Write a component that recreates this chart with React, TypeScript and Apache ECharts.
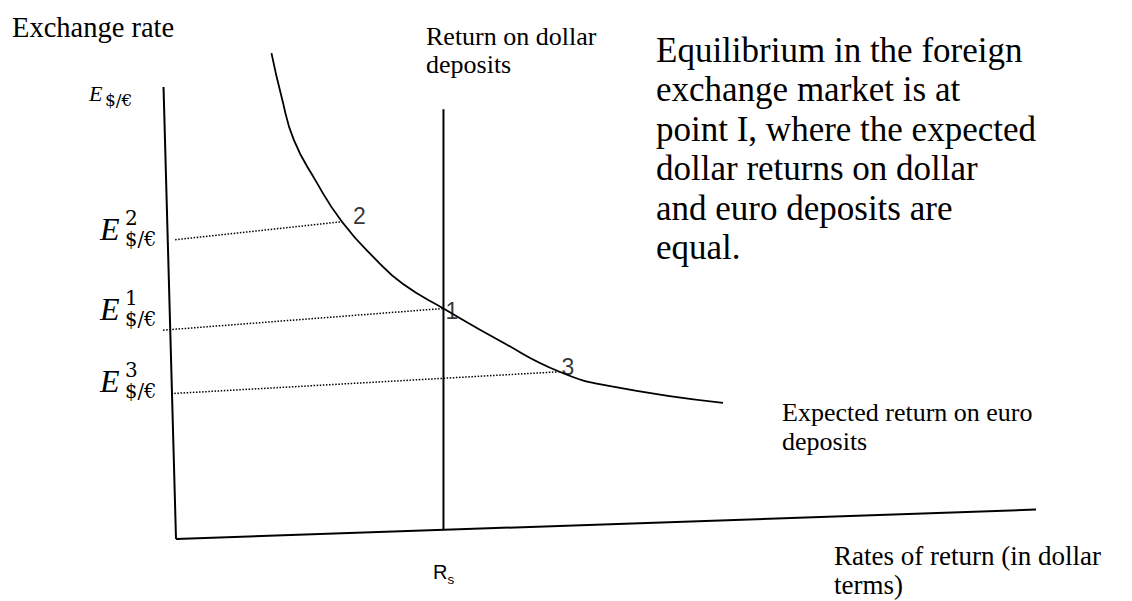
import React, { useEffect, useRef } from "react";
import * as echarts from "echarts";

// ---- data (chart units: x = rate of return, y = exchange rate) ----
const curveX = [11.1, 12.3, 13.7, 16.2, 19.3, 23.3, 26.4, 31.1, 37.7, 44.6, 50.5, 63.6];
const curveY = [107.5, 97.6, 88.3, 79.4, 70.2, 61.7, 56.4, 51.0, 43.8, 37.0, 33.8, 30.1];
const pointNames = ["2", "1", "3"];
const pointX = [19.3, 31.1, 44.6];
const pointY = [70.2, 51.0, 37.0];
const dottedStartX = [-0.1, -1.5, -0.2];
const dottedStartY = [66.2, 46.2, 32.2];
const rsX = 31.1;
const rsBottom = 2.0;
const rsTop = 95.1;
const yAxisX = [0, -1.45];
const yAxisY = [0, 100];
const xAxisX = [0, 100];
const xAxisY = [0, 6.5];
const paragraph = [
  "Equilibrium in the foreign",
  "exchange market is at",
  "point I, where the expected",
  "dollar returns on dollar",
  "and euro deposits are",
  "equal.",
];
const eSups = ["2", "1", "3"];

const SERIF = "'Liberation Serif', 'Times New Roman', serif";
const SANS = "'Liberation Sans', Arial, sans-serif";
const DVS = "'DejaVu Serif', serif";

function txt(x: number, baseline: number, text: string, fs: number, family: string, style = "normal") {
  return {
    type: "text",
    x,
    y: baseline - 0.34 * fs,
    silent: true,
    style: {
      text,
      font: `${style} ${fs}px ${family}`,
      fill: "#000",
      textAlign: "left",
      textVerticalAlign: "middle",
      align: "left",
      verticalAlign: "middle",
    },
  };
}

export default function App() {
  const ref = useRef<HTMLDivElement>(null);
  useEffect(() => {
    if (!ref.current) return;
    const chart = echarts.init(ref.current, undefined, { renderer: "svg" });
    const black = "#000";
    const lineSeries = (data: number[][], width: number, extra: any = {}) => ({
      type: "line",
      data,
      symbol: "none",
      clip: false,
      silent: true,
      lineStyle: { color: black, width, ...(extra.lineStyle || {}) },
    });

    const graphics: any[] = [];
    graphics.push(txt(12, 37.3, "Exchange rate", 28.5, SERIF));
    graphics.push(txt(426, 45, "Return on dollar", 26, SERIF));
    graphics.push(txt(426, 73.3, "deposits", 26, SERIF));
    paragraph.forEach((l, i) => graphics.push(txt(656, 62.3 + 39.5 * i, l, 35, SERIF)));
    graphics.push(txt(782, 421.7, "Expected return on euro", 26, SERIF));
    graphics.push(txt(782, 450.7, "deposits", 26, SERIF));
    graphics.push(txt(834, 565, "Rates of return (in dollar", 27, SERIF));
    graphics.push(txt(834, 594, "terms)", 27, SERIF));
    // Rs
    graphics.push(txt(433, 579, "R", 20, SANS));
    graphics.push(txt(447.5, 584, "s", 13.5, SANS));
    // E$/€ axis label
    graphics.push(txt(89, 101, "E", 22, SERIF, "italic"));
    graphics.push(txt(105, 106, "$/€", 17, DVS));
    // E labels
    const eBase = [240, 320, 392];
    eSups.forEach((s, i) => {
      graphics.push(txt(100, eBase[i], "E", 32, SERIF, "italic"));
      graphics.push(txt(125, eBase[i] - 15, s, 20, DVS));
      graphics.push(txt(125, eBase[i] + 6, "$/€", 19.5, DVS));
    });

    const labelOffsets = [
      [11, -6],
      [2, 3],
      [2, -5],
    ];

    chart.setOption({
      animation: false,
      grid: { left: 4, top: 41.8, width: 1118, height: 542.4, containLabel: false },
      xAxis: { type: "value", min: -20, max: 110, show: false },
      yAxis: { type: "value", min: -10, max: 110, show: false },
      tooltip: { show: false },
      series: [
        lineSeries(yAxisX.map((x, i) => [x, yAxisY[i]]), 2),
        lineSeries(xAxisX.map((x, i) => [x, xAxisY[i]]), 2),
        lineSeries([[rsX, rsBottom], [rsX, rsTop]], 2),
        {
          ...lineSeries(curveX.map((x, i) => [x, curveY[i]]), 1.8),
          smooth: 0.5,
        },
        ...pointX.map((px, i) =>
          lineSeries([[dottedStartX[i], dottedStartY[i]], [px, pointY[i]]], 1.5, {
            lineStyle: { type: [1.5, 1.6] },
          })
        ),
        {
          type: "scatter",
          symbolSize: 0,
          silent: true,
          clip: false,
          data: pointX.map((x, i) => ({
            value: [x, pointY[i]],
            name: pointNames[i],
            label: {
              show: true,
              formatter: pointNames[i],
              position: "inside",
              offset: labelOffsets[i],
              align: "left",
              verticalAlign: "middle",
              fontFamily: SANS,
              fontSize: 23,
              color: black,
            },
          })),
        },
      ],
      graphic: graphics,
    });
    return () => chart.dispose();
  }, []);
  return (
    <div
      ref={ref}
      style={{ position: "fixed", left: -8, top: -8, width: 1132, height: 601, background: "#fff" }}
    />
  );
}
